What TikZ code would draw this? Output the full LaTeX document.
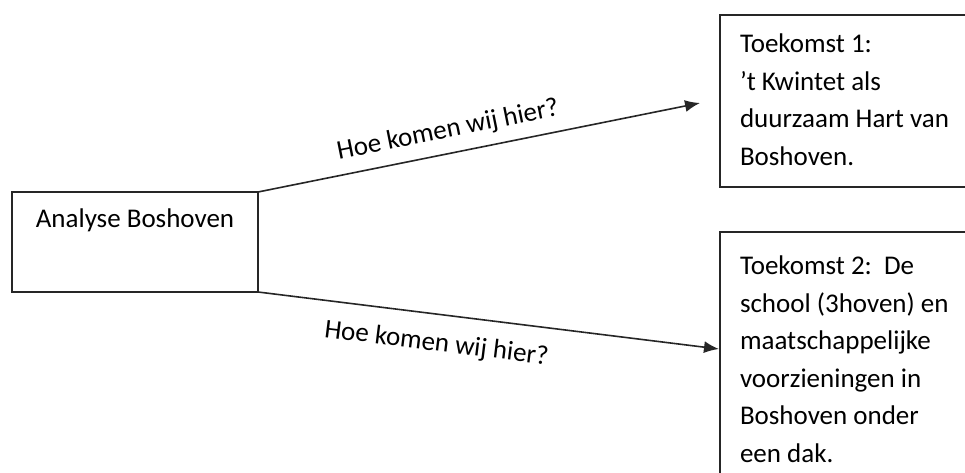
\documentclass[tikz,border=0pt]{standalone}
\usepackage{fontspec}
\setmainfont{Carlito}
\usetikzlibrary{positioning,arrows.meta}
\tikzset{%
  >={Latex[length=15pt,width=12pt]},
  inner sep=0pt,%
  outer sep=0pt,%
  box/.style={draw=black!85,line width=1.6pt,fill=white,inner xsep=20pt,inner ysep=16pt},
  route/.style={->,draw=black!85,line width=1.6pt},
  ask/.style={sloped,inner sep=0pt}%
}
\begin{document}
\begin{tikzpicture}[x=1pt,y=-1pt,every node/.style={font=\fontsize{27}{37.5}\selectfont}]
	%% some definitions
	
	\useasboundingbox (0,0) rectangle (965,473);
	\clip (0,0) rectangle (965,473);
	
	%% boxes
	
	\node[box,anchor=north west,inner ysep=0pt,minimum width=246pt,
	  text height=35pt,text depth=65pt] (analyse) at (12,192) {Analyse Boshoven};
	\node[box,anchor=north west,align=flush left,text width=260pt,inner ysep=19pt,text depth=115pt]
	  (toekomst1) at (720,15)
	  {Toekomst 1:\\'t Kwintet als\\duurzaam Hart van\\Boshoven.};
	\node[box,anchor=north west,align=flush left,text width=260pt,inner ysep=24pt,text depth=240pt]
	  (toekomst2) at (720,232)
	  {Toekomst 2:\ \ De\\school (3hoven) en\\maatschappelijke\\voorzieningen in\\Boshoven onder\\een dak.};
	
	%% arrows
	
	\coordinate (tip1) at (700,103);
	\coordinate (tip2) at (719,349);
	\draw[route] (analyse.north east) -- node[ask,above=11pt,pos=0.44] {Hoe komen wij hier?} (tip1);
	\draw[route] (analyse.south east) -- node[ask,below=18pt,pos=0.395] {Hoe komen wij hier?} (tip2);
	
\end{tikzpicture}
\end{document}
